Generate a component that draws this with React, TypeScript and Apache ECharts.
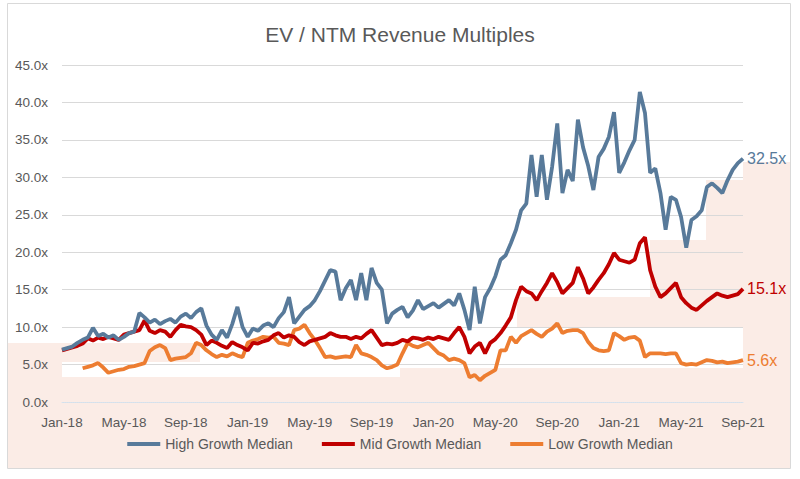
import React, { useEffect, useRef } from "react";
import * as echarts from "echarts";

// x index: one step = 1/3 month, index 0 = Jan-18, index 132 = Sep-21
const xTickLabels = ["Jan-18", "May-18", "Sep-18", "Jan-19", "May-19", "Sep-19", "Jan-20", "May-20", "Sep-20", "Jan-21", "May-21", "Sep-21"];
const yTickValues = [0, 5, 10, 15, 20, 25, 30, 35, 40, 45];

const seriesNames = ["High Growth Median", "Mid Growth Median", "Low Growth Median"];

const highGrowth = [
  7.0, 7.2, 7.4, 7.9, 8.3, 8.6, 9.9, 8.8, 9.1, 8.6,
  8.9, 8.3, 8.7, 9.2, 9.4, 11.9, 11.3, 10.6, 11.0, 10.4,
  10.8, 11.1, 10.6, 11.4, 11.8, 11.2, 12.0, 12.5, 10.2, 9.0,
  8.3, 9.6, 8.6, 10.4, 12.7, 10.0, 8.7, 9.8, 9.5, 10.2,
  10.5, 10.0, 11.2, 12.0, 14.0, 10.5, 11.4, 12.3, 12.8, 13.6,
  14.8, 16.2, 17.6, 17.4, 13.6, 15.2, 16.3, 13.6, 17.2, 13.6,
  17.9, 15.9, 15.0, 10.5, 11.8, 12.3, 12.7, 11.3, 12.2, 13.6,
  12.4, 12.8, 13.2, 12.6, 13.1, 13.6, 12.9, 14.5, 12.3, 9.6,
  15.4, 10.5, 14.0, 15.2, 16.8, 19.0, 19.6, 21.2, 23.0, 25.6,
  26.5, 33.0, 27.4, 33.0, 27.0, 31.4, 37.2, 27.9, 31.0, 29.5,
  37.7, 34.0, 31.5, 28.3, 32.7, 33.8, 35.4, 38.7, 30.6, 32.0,
  33.6, 35.0, 41.4, 38.6, 30.6, 31.2, 27.9, 23.0, 27.4, 27.0,
  24.7, 20.6, 24.3, 24.8, 25.6, 28.7, 29.2, 28.6, 27.9, 29.6,
  31.0, 31.9, 32.5,
];

const midGrowth = [
  6.9, 7.1, 7.3, 7.5, 7.8, 8.5, 8.2, 8.6, 8.4, 8.7,
  8.5, 8.3, 9.0, 9.2, 9.4, 9.6, 10.9, 9.5, 9.2, 9.6,
  9.4, 8.7, 9.6, 10.3, 10.1, 10.0, 9.6, 9.0, 7.6, 8.2,
  7.9, 7.5, 7.2, 8.0, 7.6, 7.3, 6.9, 7.9, 7.8, 8.1,
  8.3, 8.9, 9.2, 8.6, 8.9, 8.7, 8.0, 7.6, 8.1, 8.3,
  8.5, 8.7, 9.2, 8.9, 8.7, 8.7, 8.4, 8.7, 8.5, 9.1,
  9.6, 8.6, 7.6, 7.8, 7.7, 7.9, 8.3, 8.1, 8.6, 8.5,
  8.3, 8.6, 8.4, 8.7, 8.5, 8.3, 9.2, 10.0, 8.7, 6.5,
  7.4, 7.9, 6.5, 7.9, 8.4, 9.2, 10.2, 11.3, 13.6, 15.4,
  14.8, 14.5, 13.6, 14.8, 15.9, 17.2, 16.0, 14.5, 15.2, 15.9,
  18.0, 16.5, 14.5, 15.3, 16.3, 17.2, 18.4, 19.9, 19.0, 18.8,
  18.6, 19.0, 21.2, 22.0, 17.6, 15.4, 14.0, 14.5, 15.2, 15.9,
  14.0, 13.2, 12.6, 12.3, 12.9, 13.5, 14.0, 14.5, 14.2, 14.0,
  14.2, 14.4, 15.1,
];

const lowGrowth = [
  null, null, null, null, 4.5, 4.7, 4.9, 5.2, 4.6, 3.9,
  4.1, 4.3, 4.4, 4.7, 4.8, 5.0, 5.2, 6.8, 7.3, 7.6,
  7.2, 5.6, 5.8, 5.9, 6.0, 6.5, 7.9, 7.6, 6.9, 6.4,
  6.0, 6.3, 6.1, 6.5, 6.2, 6.0, 7.9, 8.2, 8.4, 8.7,
  8.6, 8.7, 7.9, 7.8, 7.6, 9.6, 9.8, 10.3, 9.2, 8.3,
  7.2, 6.0, 6.1, 5.9, 6.0, 6.1, 6.0, 7.6, 6.5, 6.3,
  6.0, 5.6, 4.9, 4.5, 4.7, 5.0, 6.5, 7.9, 7.5, 7.3,
  7.6, 7.9, 7.2, 6.5, 6.2, 5.6, 5.8, 5.6, 5.2, 3.3,
  3.6, 2.9, 3.5, 3.9, 4.3, 6.9, 6.9, 8.7, 7.9, 8.8,
  9.2, 9.6, 9.1, 8.7, 9.4, 9.8, 10.5, 9.2, 9.5, 9.6,
  9.6, 9.2, 8.0, 7.2, 6.9, 6.8, 6.9, 9.2, 8.8, 8.3,
  8.6, 8.7, 8.2, 6.0, 6.5, 6.5, 6.5, 6.4, 6.5, 6.5,
  5.2, 5.0, 5.1, 5.0, 5.3, 5.6, 5.5, 5.3, 5.4, 5.2,
  5.3, 5.4, 5.6,
];

const colors = ["#587A9A", "#C00000", "#ED7D31"];
const FONT = "Liberation Sans";
const PINK = "#FBECE6";

function toPairs(arr: (number | null)[]) {
  const out: [number, number][] = [];
  arr.forEach((v, i) => {
    if (v !== null) out.push([i, v]);
  });
  return out;
}

function pinkRect(x: number, y: number, w: number, h: number) {
  return { type: "rect", z: -10, silent: true, shape: { x, y, width: w, height: h }, style: { fill: PINK } };
}

export default function App() {
  const ref = useRef<HTMLDivElement>(null);
  useEffect(() => {
    if (!ref.current) return;
    const chart = echarts.init(ref.current, null, { renderer: "svg" });
    const dataSets = [highGrowth, midGrowth, lowGrowth];
    chart.setOption({
      animation: false,
      backgroundColor: "#ffffff",
      textStyle: { fontFamily: FONT },
      title: {
        text: "EV / NTM Revenue Multiples",
        left: "center",
        top: 19,
        textStyle: { fontFamily: FONT, fontSize: 21, fontWeight: "normal", color: "#595959" },
      },
      graphic: [
        pinkRect(8, 377, 782, 91),
        pinkRect(400, 368, 390, 9),
        pinkRect(8, 343, 192, 19),
        pinkRect(8, 362, 54, 15),
        pinkRect(743, 162, 47, 215),
        pinkRect(706, 180, 37, 147),
        pinkRect(650, 240, 56, 87),
        pinkRect(517, 297, 133, 30),
        {
          type: "rect",
          z: 100,
          silent: true,
          shape: { x: 7.5, y: 3.5, width: 783, height: 465 },
          style: { fill: "none", stroke: "#d9d9d9", lineWidth: 1 },
        },
      ],
      legend: {
        left: "center",
        top: 432,
        itemWidth: 33,
        itemHeight: 4,
        itemGap: 29,
        icon: "rect",
        textStyle: { fontFamily: FONT, fontSize: 14, color: "#595959" },
        data: seriesNames,
      },
      grid: { left: 62, right: 57, top: 65, bottom: 77, containLabel: false },
      xAxis: {
        type: "value",
        min: 0,
        max: 132,
        interval: 12,
        axisLine: { show: true, lineStyle: { color: "#d6e3f0", type: "dotted" } },
        axisTick: { show: false },
        splitLine: { show: false },
        axisLabel: {
          margin: 13,
          fontSize: 13.5,
          color: "#595959",
          fontFamily: FONT,
          formatter: (v: number) => xTickLabels[Math.round(v / 12)] ?? "",
        },
      },
      yAxis: {
        type: "value",
        min: yTickValues[0],
        max: yTickValues[yTickValues.length - 1],
        interval: 5,
        axisLine: { show: false },
        axisTick: { show: false },
        splitLine: { lineStyle: { color: "#d9d9d9", width: 1 } },
        axisLabel: {
          margin: 14,
          fontSize: 13.5,
          color: "#595959",
          fontFamily: FONT,
          formatter: (v: number) => v.toFixed(1) + "x",
        },
      },
      series: seriesNames.map((name, k) => ({
        name,
        type: "line",
        data: toPairs(dataSets[k]),
        showSymbol: false,
        symbol: "none",
        color: colors[k],
        lineStyle: { color: colors[k], width: 3.8 },
        z: 10 - k,
        endLabel: {
          show: true,
          distance: 4,
          fontSize: 16,
          fontFamily: FONT,
          color: colors[k],
          formatter: (p: any) => Number(p.value[1]).toFixed(1) + "x",
        },
      })),
    });
    return () => chart.dispose();
  }, []);
  return (
    <div
      ref={ref}
      style={{ position: "fixed", left: 0, top: 0, width: 800, height: 479 }}
    />
  );
}
